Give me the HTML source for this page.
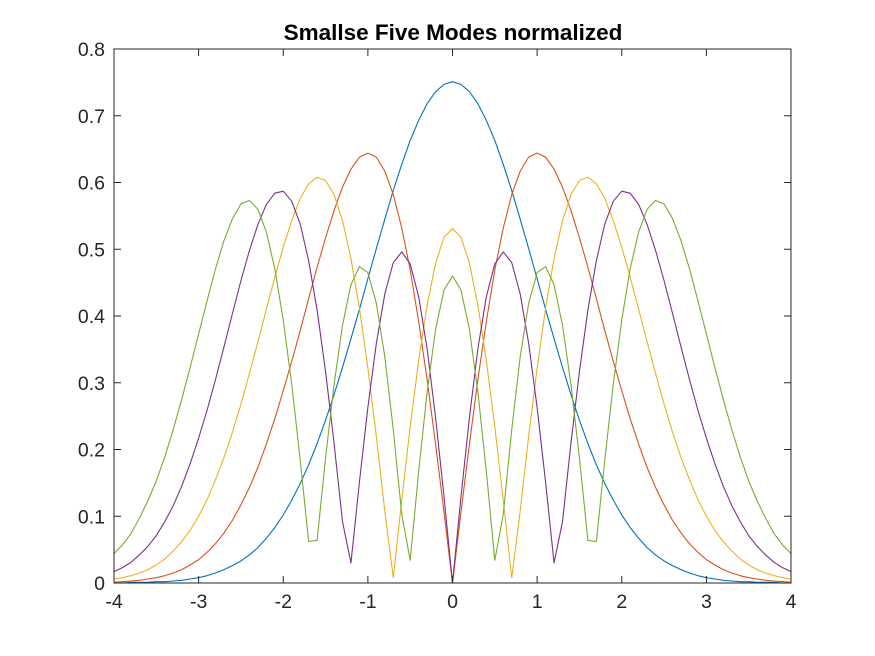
<!DOCTYPE html>
<html><head><meta charset="utf-8"><style>
html,body{margin:0;padding:0;background:#fff;}
svg{display:block;font-family:"Liberation Sans",Arial,sans-serif;}
</style></head><body>
<svg id="chart" width="875" height="656" viewBox="0 0 875 656" xmlns="http://www.w3.org/2000/svg">
<rect x="0" y="0" width="875" height="656" fill="#fff"/>
<text x="453" y="40" text-anchor="middle" font-size="22.5" font-weight="bold" fill="#000">Smallse Five Modes normalized</text>
<g id="plot"></g>
</svg>
<script>
const xTicks = [-4,-3,-2,-1,0,1,2,3,4];
const yTicks = [0,0.1,0.2,0.3,0.4,0.5,0.6,0.7,0.8];
const xTickLabels = ["-4","-3","-2","-1","0","1","2","3","4"];
const yTickLabels = ["0","0.1","0.2","0.3","0.4","0.5","0.6","0.7","0.8"];
const xStart = -4, xStep = 0.1;
const mode0 = [0,0,.001,.001,.001,.002,.002,.003,.004,.006,.008,.011,.015,.020,.026,.033,.042,.053,.067,.083,.102,.124,.149,.177,.209,.244,.282,.323,.366,.410,.456,.501,.545,.588,.627,.663,.693,.718,.736,.747,.751,.747,.736,.718,.693,.663,.627,.588,.545,.501,.456,.410,.366,.323,.282,.244,.209,.177,.149,.124,.102,.083,.067,.053,.042,.033,.026,.020,.015,.011,.008,.006,.004,.003,.002,.002,.001,.001,.001,0,0];
const mode1 = [.001,.002,.003,.004,.006,.008,.011,.015,.020,.027,.035,.046,.059,.075,.094,.117,.143,.173,.208,.246,.288,.332,.378,.426,.473,.517,.558,.593,.620,.638,.644,.638,.617,.582,.532,.469,.392,.305,.208,.106,0,.106,.208,.305,.392,.469,.532,.582,.617,.638,.644,.638,.620,.593,.558,.517,.473,.426,.378,.332,.288,.246,.208,.173,.143,.117,.094,.075,.059,.046,.035,.027,.020,.015,.011,.008,.006,.004,.003,.002,.001];
const mode2 = [.006,.008,.011,.015,.020,.027,.036,.048,.062,.079,.100,.125,.155,.188,.226,.268,.314,.361,.410,.458,.503,.543,.576,.598,.608,.603,.582,.543,.486,.412,.322,.220,.108,.008,.124,.234,.333,.416,.479,.518,.531,.518,.479,.416,.333,.234,.124,.008,.108,.220,.322,.412,.486,.543,.582,.603,.608,.598,.576,.543,.503,.458,.410,.361,.314,.268,.226,.188,.155,.125,.100,.079,.062,.048,.036,.027,.020,.015,.011,.008,.006];
const mode3 = [.017,.023,.031,.042,.055,.071,.092,.116,.145,.179,.217,.259,.305,.354,.404,.453,.498,.537,.567,.584,.587,.572,.538,.483,.409,.317,.210,.092,.030,.151,.263,.359,.433,.480,.496,.478,.429,.351,.248,.129,0,.129,.248,.351,.429,.478,.496,.480,.433,.359,.263,.151,.030,.092,.210,.317,.409,.483,.538,.572,.587,.584,.567,.537,.498,.453,.404,.354,.305,.259,.217,.179,.145,.116,.092,.071,.055,.042,.031,.023,.017];
const mode4 = [.044,.057,.074,.097,.123,.153,.189,.230,.275,.323,.373,.423,.471,.513,.546,.568,.573,.560,.526,.471,.394,.298,.185,.062,.064,.187,.297,.386,.447,.474,.465,.419,.339,.230,.103,.034,.167,.286,.380,.439,.460,.439,.380,.286,.167,.034,.103,.230,.339,.419,.465,.474,.447,.386,.297,.187,.064,.062,.185,.298,.394,.471,.526,.560,.573,.568,.546,.513,.471,.423,.373,.323,.275,.230,.189,.153,.123,.097,.074,.057,.044];
const seriesList = [mode0, mode1, mode2, mode3, mode4];
const seriesNames = ["mode-0-line","mode-1-line","mode-2-line","mode-3-line","mode-4-line"];
const colors = ["#0072BD","#D95319","#EDB120","#7E2F8E","#77AC30"];

const L=114, R=791, T=49, B=583;
const xMin=-4, xMax=4, yMin=0, yMax=0.8;
function sx(v){return L+(v-xMin)/(xMax-xMin)*(R-L);}
function sy(v){return B-(v-yMin)/(yMax-yMin)*(B-T);}
const NS="http://www.w3.org/2000/svg";
const g=document.getElementById('plot');
function mk(tag,attrs){const e=document.createElementNS(NS,tag);for(const k in attrs)e.setAttribute(k,attrs[k]);return e;}

seriesList.forEach((s,si)=>{
  let d='';
  s.forEach((v,i)=>{const x=xStart+i*xStep;d+=(i?'L':'M')+sx(x).toFixed(2)+' '+sy(v).toFixed(2);});
  const p=mk('path',{d:d,fill:'none',stroke:colors[si],'stroke-width':1.1,'stroke-linejoin':'round'});
  
  
  g.appendChild(p);
});

const box=mk('rect',{x:L,y:T,width:R-L,height:B-T,fill:'none',stroke:'#262626','stroke-width':1});


g.appendChild(box);

xTicks.forEach((t,i)=>{
  const x=sx(t);
  const tk=mk('path',{d:`M${x} ${B}V${B-7}M${x} ${T}V${T+7}`,stroke:'#262626','stroke-width':1});
  
  
  g.appendChild(tk);
  const tx=mk('text',{x:x,y:B+25,'text-anchor':'middle','font-size':19.5,fill:'#262626'});
  tx.textContent=xTickLabels[i];
  
  
  g.appendChild(tx);
});
yTicks.forEach((t,i)=>{
  const y=sy(t);
  const tk=mk('path',{d:`M${L} ${y}H${L+7}M${R} ${y}H${R-7}`,stroke:'#262626','stroke-width':1});
  
  
  g.appendChild(tk);
  const tx=mk('text',{x:L-9,y:y+7,'text-anchor':'end','font-size':19.5,fill:'#262626'});
  tx.textContent=yTickLabels[i];
  
  
  g.appendChild(tx);
});
</script>
</body></html>
